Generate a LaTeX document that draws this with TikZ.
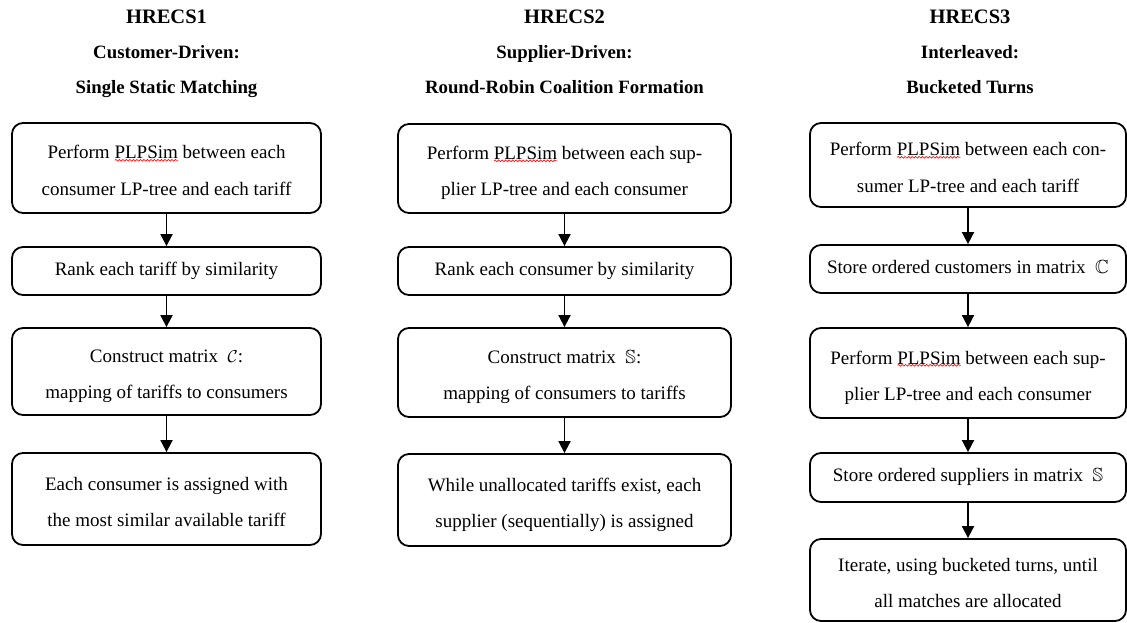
\documentclass[tikz,border=0pt]{standalone}
\usepackage{amssymb}
\usepackage{fontspec}
\setmainfont{Liberation Serif}
\usetikzlibrary{arrows.meta,decorations.pathmorphing}
\newsavebox\wavebox
\newcommand\redwave[1]{\sbox\wavebox{#1}\rlap{\raisebox{-2.5pt}{\tikz\draw[red,line width=0.6pt,rounded corners=0pt,decorate,decoration={snake,amplitude=0.9pt,segment length=3.5pt}] (0pt,0pt) -- (\wd\wavebox,0pt);}}\usebox\wavebox}
\newcommand\twol[2]{\rule{0pt}{24pt}#1\\#2\rule[-6pt]{0pt}{6pt}}
\newcommand\onel[1]{\rule[-6pt]{0pt}{20pt}#1}
\begin{document}
\begin{tikzpicture}[x=1pt,y=-1pt,
  stepbox/.style={draw,line width=1.8pt,rounded corners=11pt,inner sep=0pt,align=center,
    font=\fontsize{19}{36}\selectfont},
  hd/.style={anchor=base,inner sep=0pt,font=\bfseries\fontsize{20.5}{24}\selectfont},
  sub/.style={anchor=base,inner sep=0pt,font=\bfseries\fontsize{18.8}{22}\selectfont},
  arr/.style={line width=1.8pt,-{Triangle[length=12pt,width=12pt]}}]
\useasboundingbox (0,0) rectangle (1127,623);
% titles
\node[hd] (h1) at (166.5,24) {HRECS1};
\node[sub] (s1a) at (166.5,59) {Customer-Driven:};
\node[sub] (s1b) at (166.5,94) {Single Static Matching};
\node[hd] (h2) at (564.5,24) {HRECS2};
\node[sub] (s2a) at (564.5,59) {Supplier-Driven:};
\node[sub] (s2b) at (564.5,94) {Round-Robin Coalition Formation};
\node[hd] (h3) at (970,24) {HRECS3};
\node[sub] (s3a) at (970,59) {Interleaved:};
\node[sub] (s3b) at (970,94) {Bucketed Turns};
% column 1
\node[stepbox,minimum width=309pt,minimum height=90pt] (a1) at (166.5,168)
  {\twol{Perform \redwave{PLPSim} between each}{consumer LP-tree and each tariff}};
\node[stepbox,minimum width=309pt,minimum height=48pt] (a2) at (166.5,271)
  {\onel{Rank each tariff by similarity}};
\node[stepbox,minimum width=309pt,minimum height=87pt] (a3) at (166.5,371.5)
  {\twol{Construct matrix~ $\mathcal{C}$:}{mapping of tariffs to consumers}};
\node[stepbox,minimum width=309pt,minimum height=92pt] (a4) at (166.5,499)
  {\twol{Each consumer is assigned with}{the most similar available tariff}};
% column 2
\node[stepbox,minimum width=333pt,minimum height=89pt] (b1) at (564.5,168.5)
  {\twol{Perform \redwave{PLPSim} between each sup-}{plier LP-tree and each consumer}};
\node[stepbox,minimum width=333pt,minimum height=48pt] (b2) at (564.5,271)
  {\onel{Rank each consumer by similarity}};
\node[stepbox,minimum width=333pt,minimum height=89pt] (b3) at (564.5,372.5)
  {\twol{Construct matrix~ $\mathbb{S}$:}{mapping of consumers to tariffs}};
\node[stepbox,minimum width=333pt,minimum height=92pt] (b4) at (564.5,500)
  {\twol{While unallocated tariffs exist, each}{supplier (sequentially) is assigned}};
% column 3
\node[stepbox,minimum width=316pt,minimum height=84pt] (c1) at (968,165)
  {\twol{Perform \redwave{PLPSim} between each con-}{sumer LP-tree and each tariff}};
\node[stepbox,minimum width=316pt,minimum height=48pt] (c2) at (968,269)
  {\onel{Store ordered customers in matrix~ $\mathbb{C}$}};
\node[stepbox,minimum width=316pt,minimum height=90pt] (c3) at (968,373)
  {\twol{Perform \redwave{PLPSim} between each sup-}{plier LP-tree and each consumer}};
\node[stepbox,minimum width=316pt,minimum height=49pt] (c4) at (968,477.5)
  {\onel{Store ordered suppliers in matrix~ $\mathbb{S}$}};
\node[stepbox,minimum width=316pt,minimum height=82pt] (c5) at (968,580)
  {\twol{Iterate, using bucketed turns, until}{all matches are allocated}};
% connectors
\draw[arr] (a1) -- (a2);
\draw[arr] (a2) -- (a3);
\draw[arr] (a3) -- (a4);
\draw[arr] (b1) -- (b2);
\draw[arr] (b2) -- (b3);
\draw[arr] (b3) -- (b4);
\draw[arr] (c1) -- (c2);
\draw[arr] (c2) -- (c3);
\draw[arr] (c3) -- (c4);
\draw[arr] (c4) -- (c5);
\end{tikzpicture}
\end{document}
